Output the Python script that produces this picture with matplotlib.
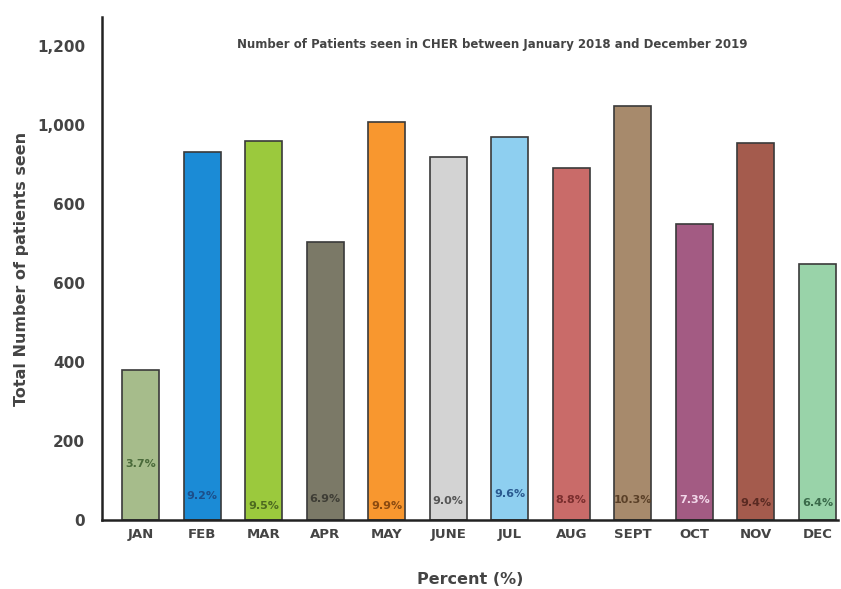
import matplotlib
matplotlib.use("Agg")
import matplotlib.pyplot as plt

months = ["JAN", "FEB", "MAR", "APR", "MAY", "JUNE", "JUL", "AUG", "SEPT", "OCT", "NOV", "DEC"]
patients = [380, 932, 960, 704, 1008, 919, 970, 891, 1048, 749, 954, 648]
percent = ["3.7%", "9.2%", "9.5%", "6.9%", "9.9%", "9.0%", "9.6%", "8.8%", "10.3%", "7.3%", "9.4%", "6.4%"]
ytick_vals = [0, 200, 400, 600, 800, 1000, 1200]
ytick_text = ["0", "200", "400", "600", "600", "1,000", "1,200"]

bar_colors = ["#a6bc8b", "#1b8bd6", "#9bc93d", "#7b7967", "#f8972f", "#d3d3d3",
              "#8ecff0", "#c96b69", "#a78a6c", "#a35b83", "#a45b4d", "#99d3a9"]
text_colors = ["#4a6a3a", "#1c4f8a", "#4d6a20", "#3e3d35", "#8a4a10", "#555555",
               "#2a5a90", "#7a2e2e", "#5a4028", "#f2d8ea", "#5a2a22", "#3a6a4a"]
label_y = [142, 62, 35, 53, 35, 48, 67, 50, 50, 50, 43, 43]

fig = plt.figure(figsize=(8.41, 5.89), dpi=100)
ax = fig.add_axes([0.121, 0.117, 0.875, 0.854])

x = range(len(months))
ax.bar(x, patients, width=0.6, color=bar_colors, edgecolor="#3a3a3a", linewidth=1.2, zorder=2)

for i, (p, c, yy) in enumerate(zip(percent, text_colors, label_y)):
    ax.text(i, yy, p, ha="center", va="center", fontsize=8, fontweight="bold", color=c, zorder=3)

ax.set_xlim(-0.63, 11.33)
ax.set_ylim(0, 1273)
ax.set_xticks(list(x))
ax.set_xticklabels(months, fontsize=9.5, fontweight="bold", color="#444444")
ax.set_yticks(ytick_vals)
ax.set_yticklabels(ytick_text, fontsize=11, fontweight="bold", color="#444444")
ax.tick_params(axis="both", length=0)
ax.tick_params(axis="y", pad=12)
ax.tick_params(axis="x", pad=6)

for s in ["top", "right"]:
    ax.spines[s].set_visible(False)
for s in ["left", "bottom"]:
    ax.spines[s].set_linewidth(1.8)
    ax.spines[s].set_color("#222222")

ax.set_ylabel("Total Number of patients seen", fontsize=11.5, fontweight="bold", color="#444444", labelpad=6)
ax.set_xlabel("Percent (%)", fontsize=11.5, fontweight="bold", color="#444444", labelpad=22)
ax.text(0.53, 0.945, "Number of Patients seen in CHER between January 2018 and December 2019",
        transform=ax.transAxes, ha="center", va="center", fontsize=8.5, fontweight="bold", color="#444444")

fig.savefig("out.png", dpi=100)
